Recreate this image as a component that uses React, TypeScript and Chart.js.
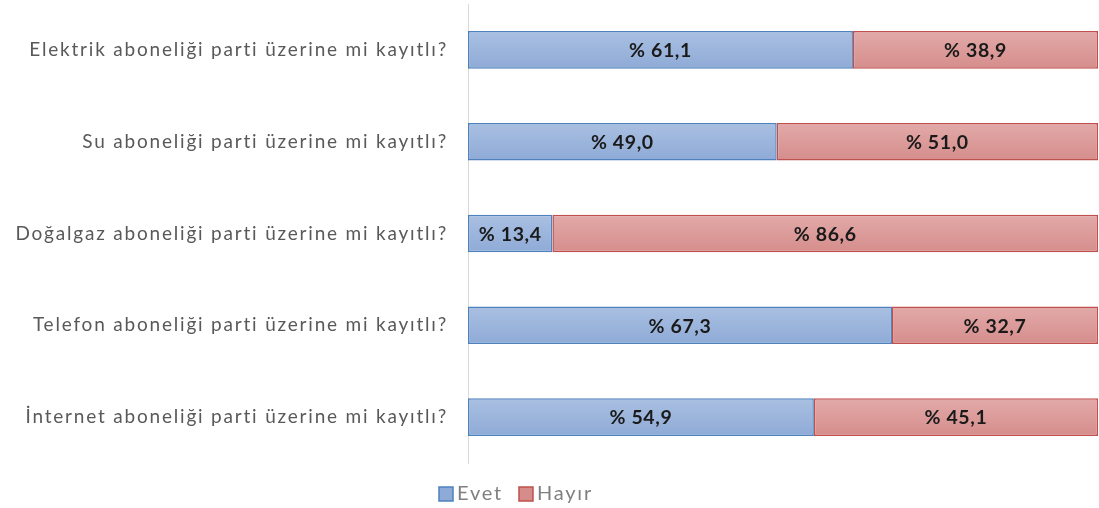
import React, { useEffect, useRef } from "react";
import { Chart, registerables } from "chart.js";

Chart.register(...registerables);

const categories = [
  "Elektrik aboneliği parti üzerine mi kayıtlı?",
  "Su aboneliği parti üzerine mi kayıtlı?",
  "Doğalgaz aboneliği parti üzerine mi kayıtlı?",
  "Telefon aboneliği parti üzerine mi kayıtlı?",
  "İnternet aboneliği parti üzerine mi kayıtlı?",
];
const seriesNames = ["Evet", "Hayır"];
const evet = [61.1, 49.0, 13.4, 67.3, 54.9];
const hayir = [38.9, 51.0, 86.6, 32.7, 45.1];

const FONT = "Lato, 'Open Sans', sans-serif";
const BLUE = { top: "#aac0e2", bottom: "#8eaad6", border: "#4f81bd" };
const RED = { top: "#e2aaa9", bottom: "#d58d8b", border: "#c0504d" };

function gradientFill(c: any, col: { top: string; bottom: string }) {
  const chart = c.chart;
  const y = chart.scales?.y;
  if (!y || c.dataIndex === undefined) return col.top;
  const cy = y.getPixelForValue(c.dataIndex);
  if (!isFinite(cy)) return col.top;
  const h = 19;
  const g = chart.ctx.createLinearGradient(0, cy - h, 0, cy + h);
  g.addColorStop(0, col.top);
  g.addColorStop(1, col.bottom);
  return g;
}

const spacingPlugin = {
  id: "spacing",
  beforeDraw(chart: any) {
    chart.ctx.letterSpacing = "1.8px";
  },
};

const labelPlugin = {
  id: "barLabels",
  afterDatasetsDraw(chart: any) {
    const ctx = chart.ctx;
    ctx.save();
    ctx.letterSpacing = "0.6px";
    ctx.font = `bold 19.5px ${FONT}`;
    ctx.fillStyle = "#1a1a1a";
    ctx.textAlign = "center";
    ctx.textBaseline = "middle";
    chart.data.datasets.forEach((ds: any, di: number) => {
      const meta = chart.getDatasetMeta(di);
      meta.data.forEach((bar: any, i: number) => {
        const v = ds.data[i] as number;
        const x = (bar.x + bar.base) / 2;
        ctx.fillText("% " + v.toFixed(1).replace(".", ","), x, bar.y + 1);
      });
    });
    ctx.restore();
  },
};

const legendPlugin = {
  id: "customLegend",
  afterDraw(chart: any) {
    const ctx = chart.ctx;
    ctx.save();
    ctx.letterSpacing = "1.8px";
    ctx.font = `20px ${FONT}`;
    ctx.textBaseline = "middle";
    ctx.textAlign = "left";
    const cols = [BLUE, RED];
    const cy = 494;
    let x = 439;
    seriesNames.forEach((name, i) => {
      ctx.fillStyle = cols[i].bottom;
      ctx.fillRect(x, cy - 7, 14, 14);
      ctx.strokeStyle = cols[i].border;
      ctx.lineWidth = 1.5;
      ctx.strokeRect(x, cy - 7, 14, 14);
      ctx.fillStyle = "#808080";
      ctx.fillText(name, x + 18, cy);
      x += 18 + ctx.measureText(name).width + 16;
    });
    ctx.restore();
  },
};

export default function App() {
  const ref = useRef<HTMLCanvasElement>(null);
  useEffect(() => {
    document.body.style.margin = "0";
    const chart = new Chart(ref.current!, {
      type: "bar",
      data: {
        labels: categories,
        datasets: [
          {
            label: seriesNames[0],
            data: evet,
            backgroundColor: (c: any) => gradientFill(c, BLUE),
            borderColor: BLUE.border,
            borderWidth: 1.5,
            borderSkipped: false,
            categoryPercentage: 1,
            barPercentage: 0.41,
          },
          {
            label: seriesNames[1],
            data: hayir,
            backgroundColor: (c: any) => gradientFill(c, RED),
            borderColor: RED.border,
            borderWidth: 1.5,
            borderSkipped: false,
            categoryPercentage: 1,
            barPercentage: 0.41,
          },
        ],
      },
      options: {
        indexAxis: "y",
        responsive: false,
        animation: false,
        layout: { padding: { top: 4, right: 1, bottom: 45, left: 0 } },
        scales: {
          x: { stacked: true, min: 0, max: 100, display: false },
          y: {
            stacked: true,
            grid: { display: false, drawTicks: false },
            border: { display: true, color: "#d9d9d9", width: 1 },
            ticks: {
              padding: 20,
              color: "#595959",
              font: { family: FONT, size: 19 },
            },
            afterFit(scale: any) {
              scale.width = 468;
              scale.paddingTop = 0;
              scale.paddingBottom = 0;
            },
          },
        },
        plugins: {
          legend: { display: false },
          tooltip: { enabled: false },
        },
      },
      plugins: [spacingPlugin, labelPlugin, legendPlugin],
    });
    return () => chart.destroy();
  }, []);
  return <canvas ref={ref} width={1099} height={508} style={{ display: "block" }} />;
}
